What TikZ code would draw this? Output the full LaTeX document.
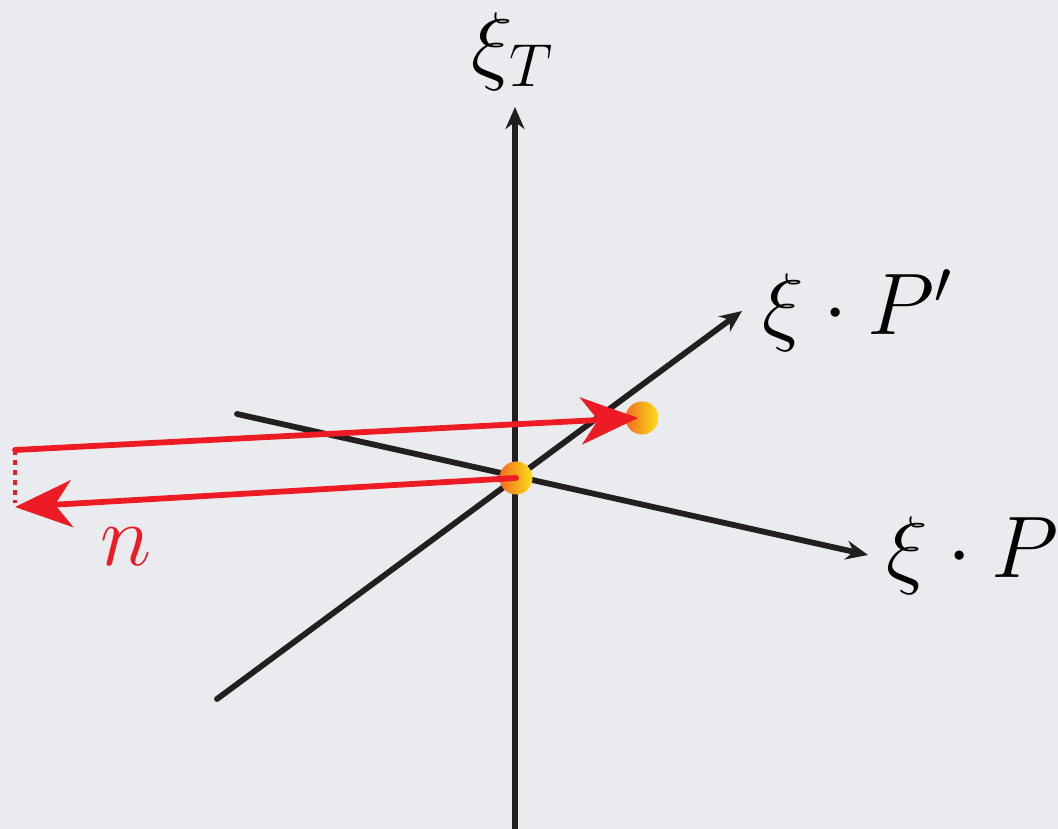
\documentclass[tikz,border=0pt]{standalone}
\usepackage{tikz}
\usetikzlibrary{arrows.meta}
\definecolor{bgcol}{RGB}{233,235,238}
\definecolor{axcol}{RGB}{35,31,32}
\definecolor{vecred}{RGB}{237,28,36}
\definecolor{ptleft}{RGB}{243,108,33}
\definecolor{ptright}{RGB}{250,224,22}
\tikzset{
  axis/.style={line width=1.65pt, draw=axcol, line cap=round, -{Stealth[length=0.22cm, width=0.19cm]}},
  vecarrow/.style={line width=1.65pt, draw=vecred, line cap=round, -{Stealth[length=0.57cm, width=0.47cm, inset=0.17cm]}},
  gapline/.style={line width=1.35pt, draw=vecred, dash pattern=on 0.05cm off 0.05cm},
  pt/.style={circle, minimum size=0.33cm, inner sep=0pt, left color=ptleft, right color=ptright},
  lbl/.style={inner sep=0pt, font=\fontsize{25}{30}\selectfont}
}

\begin{document}
\begin{tikzpicture}[>=Stealth, x=1cm, y=-1cm]
		\fill[bgcol] (0,0) rectangle (10.58,8.29);
		\useasboundingbox (0,0) rectangle (10.58,8.29);
		% axes
		\coordinate (Tlow) at (5.15,8.29);
		\coordinate (Ttip) at (5.15,1.07);
		\coordinate (Qlow) at (2.17,6.99);
		\coordinate (Qtip) at (7.42,3.11);
		\coordinate (Plow) at (2.37,4.14);
		\coordinate (Ptip) at (8.68,5.55);
		\draw[axis] (Tlow) -- (Ttip);
		\draw[axis] (Qlow) -- (Qtip);
		\draw[axis] (Plow) -- (Ptip);
		\node[lbl, anchor=south] (xiT) at (5.13,0.91) {$\xi_T$};
		\node[lbl, anchor=base west] (xiQ) at (7.62,3.35) {$\xi\cdot P'$};
		\node[lbl, anchor=base west] (xiP) at (8.86,5.78) {$\xi\cdot P$};
		% points and n
		\node[pt] (orig) at (5.16,4.78) {};
		\node[pt] (shift) at (6.42,4.18) {};
		\coordinate (nA) at (0.15,4.50);
		\coordinate (nB) at (0.15,5.07);
		\draw[gapline] (nA) -- (0.15,5.03);
		\draw[vecarrow] (nA) -- ([xshift=-0.04cm]shift.center);
		\draw[vecarrow] (orig.center) -- (nB);
		\node[lbl, text=vecred, anchor=base west] (nlbl) at (1.00,5.66) {$n$};
	\end{tikzpicture}
\end{document}
